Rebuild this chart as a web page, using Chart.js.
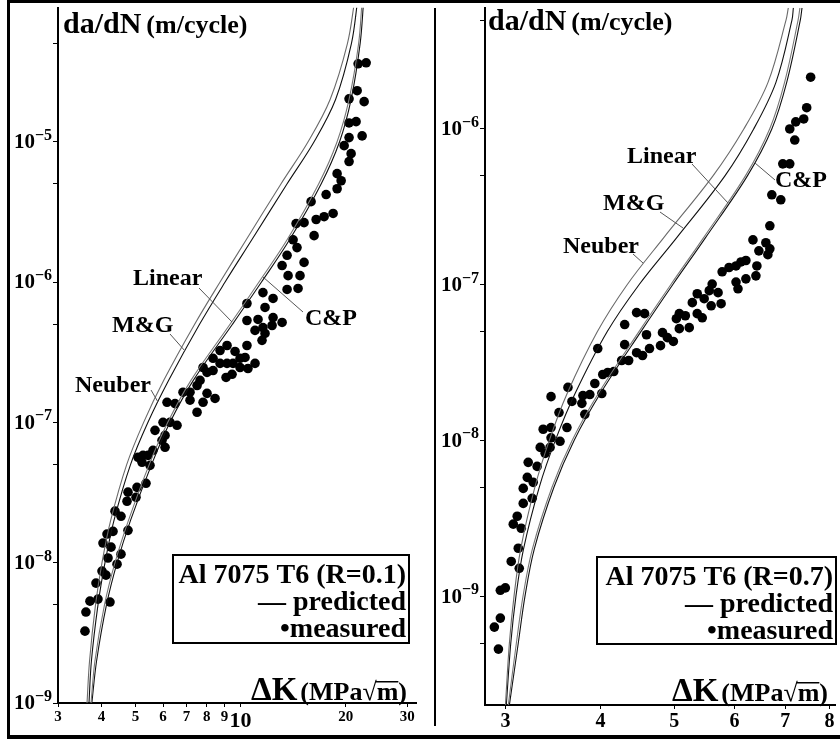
<!DOCTYPE html>
<html>
<head>
<meta charset="utf-8">
<script src="https://cdn.jsdelivr.net/npm/chart.js@4.4.1/dist/chart.umd.min.js"></script>
<style>
  html, body { margin: 0; padding: 0; background: #fff; }
  #page { position: relative; width: 840px; height: 740px; overflow: hidden; }
  canvas { position: absolute; }
  .bar { position: absolute; background: #000; }
</style>
</head>
<body>
<div id="page">
  <canvas id="left" width="424" height="732" style="left:10px;top:3px"></canvas>
  <canvas id="right" width="403" height="732" style="left:437px;top:3px"></canvas>
  <div class="bar" style="left:7px;top:0;width:833px;height:3px"></div>
  <div class="bar" style="left:7px;top:0;width:3px;height:739px"></div>
  <div class="bar" style="left:7px;top:735px;width:833px;height:4px"></div>
  <div class="bar" style="left:434px;top:8px;width:2px;height:718px"></div>
</div>
<script>
// ---- left panel: R = 0.1 ----
const LEFT_RATES = [1e-9, 2e-9, 5e-9, 1e-8, 2e-8, 5e-8, 1e-7, 2e-7, 5e-7, 1e-6, 2e-6, 5e-6, 1e-5, 2e-5, 5e-5, 1e-4];
const LEFT_NEUBER = [3.633, 3.694, 3.842, 4.010, 4.246, 4.719, 5.277, 6.031, 7.387, 8.735, 10.38, 13.05, 15.61, 18.05, 20.23, 21.21];
const LEFT_MG     = [3.68, 3.74, 3.905, 4.09, 4.34, 4.84, 5.43, 6.23, 7.63, 9.03, 10.77, 13.58, 16.24, 18.71, 20.77, 21.63];
const LEFT_LINEAR = [3.730, 3.828, 4.076, 4.369, 4.775, 5.474, 6.188, 7.217, 9.328, 11.29, 13.59, 16.73, 18.90, 20.45, 21.78, 22.28];
const LEFT_CP     = [3.75, 3.87, 4.130, 4.43, 4.84, 5.56, 6.28, 7.33, 9.48, 11.48, 13.81, 17.01, 19.21, 20.73, 22.0, 22.51];
const LEFT_MEASURED = [
  [21.71,3.59e-5],[22.89,3.65e-5],[21.57,2.31e-5],[20.45,2.02e-5],[22.59,1.93e-5],
  [20.45,1.36e-5],[21.42,1.39e-5],[22.29,1.10e-5],[20.45,1.07e-5],[19.80,9.37e-6],
  [20.73,8.22e-6],[20.45,7.22e-6],[18.90,5.92e-6],[19.41,5.27e-6],[18.90,4.62e-6],
  [17.58,4.20e-6],[15.92,3.74e-6],[18.41,3.08e-6],[17.35,2.92e-6],[16.46,2.79e-6],
  [14.42,2.61e-6],[15.20,2.65e-6],[16.24,2.14e-6],[14.14,2.00e-6],[14.51,1.76e-6],
  [13.59,1.55e-6],[15.20,1.38e-6],[13.15,1.31e-6],[13.68,1.11e-6],[14.80,1.11e-6],
  [13.59,8.85e-7],[14.61,9.0e-7],[11.59,8.41e-7],[12.39,7.64e-7],[10.43,7.03e-7],
  [11.75,6.59e-7],[10.43,5.32e-7],[11.22,5.41e-7],[12.39,5.58e-7],[13.15,5.15e-7],
  [11.59,4.74e-7],[12.31,4.90e-7],[11.00,4.52e-7],[11.75,4.30e-7],[11.52,3.84e-7],
  [10.43,3.53e-7],[9.146,3.53e-7],[8.735,3.25e-7],[9.643,3.20e-7],[10.30,2.90e-7],
  [9.965,2.86e-7],[8.340,2.86e-7],[8.735,2.63e-7],[9.146,2.63e-7],[9.515,2.63e-7],
  [9.965,2.46e-7],[11.00,2.63e-7],[10.50,2.42e-7],[7.808,2.46e-7],[8.016,2.27e-7],
  [8.340,2.34e-7],[9.087,2.09e-7],[9.454,2.20e-7],[7.655,1.99e-7],[7.505,1.83e-7],
  [7.165,1.64e-7],[8.016,1.61e-7],[8.451,1.48e-7],[6.842,1.64e-7],[6.157,1.39e-7],
  [6.491,1.36e-7],[7.165,1.44e-7],[7.808,1.39e-7],[7.505,1.18e-7],[5.997,1.00e-7],
  [6.280,1.00e-7],[6.577,9.53e-8],[5.688,8.77e-8],[6.077,8.07e-8],[5.957,7.45e-8],
  [5.614,6.32e-8],[5.256,5.82e-8],[5.085,5.64e-8],[6.077,6.64e-8],[5.432,5.82e-8],
  [5.221,5.19e-8],[5.504,4.94e-8],[5.360,3.68e-8],[5.051,3.44e-8],[4.760,3.18e-8],
  [5.018,2.92e-8],[4.729,2.74e-8],[4.369,2.33e-8],[4.545,2.14e-8],[4.760,1.70e-8],
  [4.312,1.67e-8],[4.144,1.60e-8],[4.036,1.38e-8],[4.256,1.29e-8],[4.172,1.08e-8],
  [4.545,1.15e-8],[4.428,9.75e-9],[4.010,8.71e-9],[4.117,8.15e-9],[3.854,7.15e-9],
  [3.905,5.50e-9],[3.704,5.32e-9],[4.227,5.24e-9],[3.607,4.45e-9],[3.584,3.25e-9]
];
const LEFT_X_TICKS = [3, 4, 5, 6, 7, 8, 9, 10, 20, 30];
const LEFT_Y_TICKS = [1e-9, 5e-9, 1e-8, 5e-8, 1e-7, 5e-7, 1e-6, 5e-6, 1e-5, 5e-5];

// ---- right panel: R = 0.7 ----
const RIGHT_RATES = [2e-10, 5e-10, 1e-9, 2e-9, 5e-9, 1e-8, 2e-8, 5e-8, 1e-7, 2e-7, 5e-7, 1e-6, 2e-6, 5e-6, 6e-6];
const RIGHT_NEUBER = [3.0, 3.036, 3.079, 3.141, 3.279, 3.426, 3.616, 3.963, 4.336, 4.842, 5.623, 6.173, 6.644, 7.014, 7.063];
const RIGHT_MG     = [3.008, 3.049, 3.097, 3.168, 3.323, 3.489, 3.704, 4.083, 4.495, 5.036, 5.830, 6.360, 6.805, 7.141, 7.172];
const RIGHT_LINEAR = [3.026, 3.101, 3.164, 3.254, 3.454, 3.671, 3.974, 4.494, 4.948, 5.463, 6.203, 6.675, 6.985, 7.275, 7.315];
const RIGHT_CP     = [3.036, 3.119, 3.183, 3.273, 3.474, 3.693, 3.998, 4.521, 4.977, 5.495, 6.240, 6.719, 7.030, 7.324, 7.362];
const RIGHT_MEASURED = [
  [7.557,2.15e-6],[7.467,1.37e-6],[7.400,1.16e-6],[7.224,1.11e-6],[7.094,1.0e-6],
  [7.202,8.49e-7],[6.946,5.97e-7],[7.094,5.97e-7],[6.719,3.78e-7],[6.904,3.51e-7],
  [6.679,2.39e-7],[6.346,1.94e-7],[6.599,1.86e-7],[6.679,1.70e-7],[6.461,1.65e-7],
  [6.639,1.56e-7],[6.212,1.43e-7],[6.121,1.40e-7],[6.029,1.32e-7],[5.903,1.29e-7],
  [5.781,1.21e-7],[6.422,1.32e-7],[6.403,1.14e-7],[6.212,1.09e-7],[6.029,1.04e-7],
  [6.065,9.41e-8],[5.609,1.01e-7],[5.560,9.16e-8],[5.710,8.89e-8],[5.475,8.13e-8],
  [5.592,7.32e-8],[5.763,7.55e-8],[5.361,8.75e-8],[5.282,7.67e-8],[5.078,6.52e-8],
  [5.033,6.05e-8],[5.171,6.32e-8],[5.361,6.52e-8],[5.443,6.13e-8],[5.078,5.22e-8],
  [5.233,5.30e-8],[4.826,4.92e-8],[4.898,4.57e-8],[4.987,4.32e-8],[4.797,4.06e-8],
  [4.598,4.77e-8],[4.462,6.62e-8],[4.571,6.52e-8],[4.304,5.55e-8],[4.304,4.12e-8],
  [4.640,3.89e-8],[4.543,3.51e-8],[4.462,3.66e-8],[4.356,3.26e-8],[4.265,3.26e-8],
  [4.164,2.77e-8],[4.089,2.73e-8],[4.028,2.65e-8],[3.967,3.89e-8],[3.932,2.32e-8],
  [4.016,2.0e-8],[3.873,1.97e-8],[3.793,1.94e-8],[3.781,1.73e-8],[3.815,1.47e-8],
  [3.669,1.78e-8],[3.625,2.19e-8],[3.444,1.91e-8],[3.528,1.51e-8],[3.363,1.18e-8],
  [3.444,1.21e-8],[3.614,1.21e-8],[3.444,1.04e-8],[3.539,9.87e-9],[3.333,9.02e-9],
  [3.434,9.02e-9],[3.383,8.26e-9],[3.302,6.81e-9],[3.214,7.23e-9],[3.205,5.79e-9],
  [3.263,5.38e-9],[3.166,4.92e-9],[3.253,4.25e-9],[3.166,3.94e-9],[3.109,3.26e-9],
  [3.072,2.90e-9],[3.147,2.73e-9],[3.119,2.03e-9],[3.053,1.67e-9],[3.128,1.51e-9],
  [2.954,1.09e-9],[2.999,1.13e-9],[2.954,7.23e-10],[2.901,6.33e-10],[2.937,4.57e-10]
];
const RIGHT_X_TICKS = [3, 4, 5, 6, 7, 8];
const RIGHT_Y_TICKS = [5e-10, 1e-9, 5e-9, 1e-8, 5e-8, 1e-7, 5e-7, 1e-6, 5e-6];

const SERIF = "'Liberation Serif', 'Times New Roman', serif";

function curve(ks, rates, color) {
  return {
    data: ks.map((k, i) => ({ x: k, y: rates[i] })),
    showLine: true,
    borderColor: color,
    borderWidth: 1.1,
    pointRadius: 0,
    tension: 0.35,
  };
}

// titles, legend box and curve labels, positions given in page pixels
function panelPlugin(p) {
  return {
    id: 'panelText',
    afterDraw(chart) {
      const ctx = chart.ctx;
      const y = chart.scales.y;
      ctx.save();
      ctx.fillStyle = '#000';

      // y tick labels 10^-n
      const right = chart.chartArea.left - 6;
      y.ticks.forEach(t => {
        const e = Math.log10(t.value);
        if (Math.abs(e - Math.round(e)) > 1e-6) return;
        const py = y.getPixelForValue(t.value);
        const exp = '\u2212' + Math.abs(Math.round(e));
        ctx.font = 'bold 16px ' + SERIF;
        const w = ctx.measureText(exp).width;
        ctx.textAlign = 'left';
        ctx.textBaseline = 'alphabetic';
        ctx.fillText(exp, right - w, py - 2);
        ctx.font = 'bold 21px ' + SERIF;
        ctx.textAlign = 'right';
        ctx.textBaseline = 'middle';
        ctx.fillText('10', right - w, py + 1);
      });

      ctx.translate(-p.ox, -p.oy);
      ctx.textBaseline = 'alphabetic';

      // y title
      ctx.textAlign = 'left';
      ctx.font = 'bold 30px ' + SERIF;
      ctx.fillText('da/dN', p.title[0], p.title[1]);
      const wt = ctx.measureText('da/dN').width;
      ctx.font = 'bold 26px ' + SERIF;
      ctx.fillText('(m/cycle)', p.title[0] + wt + 5, p.title[1]);

      // x title
      const [xr, yb] = p.xTitle;
      ctx.textAlign = 'right';
      ctx.font = 'bold 26px ' + SERIF;
      const unit = '(MPa\u221Am)';
      ctx.fillText(unit, xr, yb);
      const wu = ctx.measureText(unit).width;
      const wm = ctx.measureText('m)').width;
      const wp = ctx.measureText(')').width;
      ctx.fillRect(xr - wm - 1, yb - 19, wm - wp + 1, 1.5);
      ctx.font = 'bold 33px ' + SERIF;
      ctx.fillText('\u0394K', xr - wu - 3, yb);

      // legend box
      const [bx, by, bw, bh] = p.box;
      ctx.lineWidth = 2;
      ctx.strokeStyle = '#000';
      ctx.strokeRect(bx, by, bw, bh);
      ctx.font = 'bold 28px ' + SERIF;
      ctx.fillText(p.caption, bx + bw - 3, by + 28);
      ctx.fillText('\u2014 predicted', bx + bw - 3, by + 55);
      ctx.fillText('\u2022measured', bx + bw - 3, by + 82);

      // curve labels with leader lines
      ctx.textAlign = 'left';
      ctx.font = 'bold 24px ' + SERIF;
      ctx.strokeStyle = '#555';
      ctx.lineWidth = 1;
      p.labels.forEach(([text, tx, ty, x1, y1, x2, y2]) => {
        ctx.fillText(text, tx, ty);
        ctx.beginPath();
        ctx.moveTo(x1, y1);
        ctx.lineTo(x2, y2);
        ctx.stroke();
      });
      ctx.restore();
    }
  };
}

function makePanel(id, cfg) {
  return new Chart(document.getElementById(id), {
    type: 'scatter',
    data: {
      datasets: [
        curve(cfg.neuber, cfg.rates, '#6a6a6a'),
        curve(cfg.mg, cfg.rates, '#111'),
        curve(cfg.linear, cfg.rates, '#777'),
        curve(cfg.cp, cfg.rates, '#111'),
        {
          data: cfg.measured.map(([k, v]) => ({ x: k, y: v })),
          pointRadius: 4.8,
          pointBackgroundColor: '#000',
          pointBorderWidth: 0,
        },
      ],
    },
    options: {
      responsive: false,
      animation: false,
      layout: { padding: { top: 4, right: cfg.padRight, left: 0, bottom: 0 } },
      plugins: { legend: { display: false }, tooltip: { enabled: false } },
      scales: {
        x: {
          type: 'logarithmic',
          min: cfg.xMin, max: cfg.xMax,
          afterBuildTicks: s => { s.ticks = cfg.xTicks.map(v => ({ value: v })); },
          afterFit: s => { s.height = cfg.xAxisH; s.paddingLeft = 0; s.paddingRight = 0; },
          ticks: {
            autoSkip: false, maxRotation: 0, padding: 1, color: '#000',
            font: c => ({ family: SERIF, weight: 'bold', size: cfg.xFont(c.tick ? c.tick.value : 0) }),
            callback: v => String(v),
          },
          grid: { drawOnChartArea: false, tickLength: 4, color: '#000' },
          border: { color: '#000', width: 2 },
        },
        y: {
          type: 'logarithmic',
          min: cfg.yMin, max: cfg.yMax,
          afterBuildTicks: s => { s.ticks = cfg.yTicks.map(v => ({ value: v })); },
          afterFit: s => { s.width = 48; s.paddingTop = 0; s.paddingBottom = 0; },
          ticks: { display: false },
          grid: { drawOnChartArea: false, tickLength: 5, color: '#000' },
          border: { color: '#000', width: 2 },
        },
      },
    },
    plugins: [panelPlugin(cfg.notes)],
  });
}

makePanel('left', {
  rates: LEFT_RATES, neuber: LEFT_NEUBER, mg: LEFT_MG, linear: LEFT_LINEAR, cp: LEFT_CP,
  measured: LEFT_MEASURED, xTicks: LEFT_X_TICKS, yTicks: LEFT_Y_TICKS,
  xMin: 3, xMax: 31.8, yMin: 1e-9, yMax: 9e-5,
  padRight: 18, xAxisH: 32,
  xFont: v => (v === 10 ? 22 : 15),
  notes: {
    ox: 10, oy: 3,
    title: [63, 33],
    xTitle: [407, 700],
    box: [173, 555, 236, 88],
    caption: 'Al 7075 T6 (R=0.1)',
    labels: [
      ['Linear', 133, 285, 199, 288, 232, 322],
      ['M&G', 112, 332, 170, 334, 185, 351],
      ['Neuber', 75, 392, 151, 390, 158, 402],
      ['C&P', 305, 325, 263, 277, 303, 312],
    ],
  },
});

makePanel('right', {
  rates: RIGHT_RATES, neuber: RIGHT_NEUBER, mg: RIGHT_MG, linear: RIGHT_LINEAR, cp: RIGHT_CP,
  measured: RIGHT_MEASURED, xTicks: RIGHT_X_TICKS, yTicks: RIGHT_Y_TICKS,
  xMin: 2.82, xMax: 8.14, yMin: 2e-10, yMax: 6e-6,
  padRight: 3, xAxisH: 30,
  xFont: () => 20,
  notes: {
    ox: 437, oy: 3,
    title: [488, 30],
    xTitle: [828, 701],
    box: [597, 557, 239, 87],
    caption: 'Al 7075 T6 (R=0.7)',
    labels: [
      ['Linear', 627, 163, 692, 164, 728, 203],
      ['M&G', 603, 210, 660, 212, 683, 228],
      ['Neuber', 563, 253, 633, 254, 643, 263],
      ['C&P', 775, 187, 755, 163, 775, 180],
    ],
  },
});
</script>
</body>
</html>
